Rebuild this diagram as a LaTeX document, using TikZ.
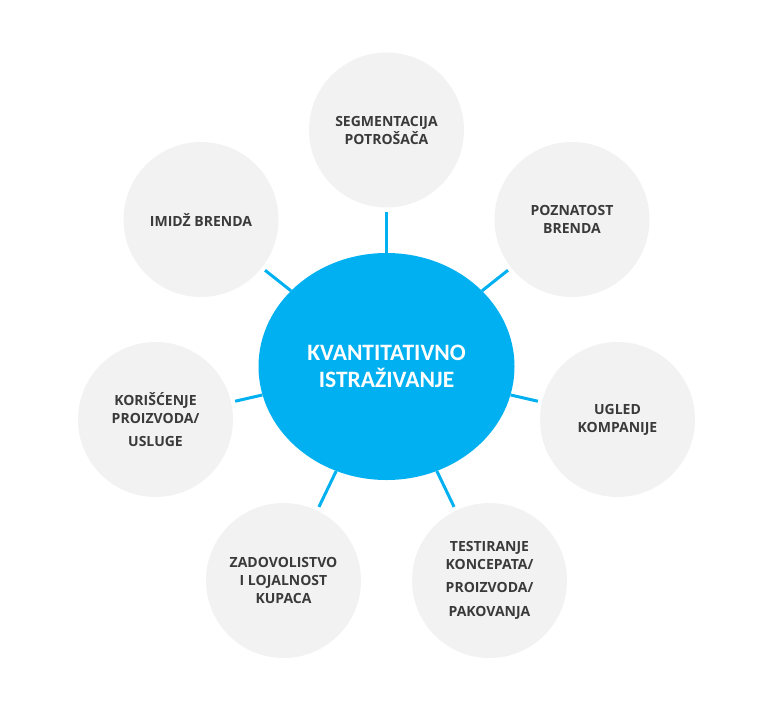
\documentclass[tikz,border=0pt]{standalone}
\usepackage{fontspec}
\setmainfont{Open Sans}
\newfontfamily\centerfont{Carlito}
\usetikzlibrary{shapes.geometric}
\definecolor{bubble}{HTML}{F2F2F2}
\definecolor{hubblue}{HTML}{00B0F0}
\definecolor{labelgray}{HTML}{3A3A3A}
\tikzset{
  bubble/.style={circle, fill=bubble, minimum size=155pt, inner sep=0pt,
    text=labelgray, align=center, font=\bfseries\fontsize{14}{18}\selectfont},
  hub/.style={ellipse, fill=hubblue, minimum width=256pt, minimum height=227pt,
    inner sep=0pt, text=white, align=center, font=\centerfont\bfseries\fontsize{23.5}{26.5}\selectfont},
  conn/.style={draw=hubblue, line width=3pt, shorten <=4pt}
}
\begin{document}
\begin{tikzpicture}[x=1pt,y=-1pt]
\useasboundingbox (0,0) rectangle (781,723);
\node[hub] (ell) at (386.5,366.5) {KVANTITATIVNO\\ISTRAŽIVANJE};
\node[bubble] (seg) at (386.5,130) {SEGMENTACIJA\\POTROŠAČA};
\node[bubble] (poz) at (572,219.5) {POZNATOST\\BRENDA};
\node[bubble] (ugl) at (617.5,419.5) {UGLED\\KOMPANIJE};
\node[bubble] (tes) at (489.5,580.5) {TESTIRANJE\\KONCEPATA/\\[5pt]PROIZVODA/\\[6pt]PAKOVANJA};
\node[bubble] (zad) at (283.5,580.5) {ZADOVOLISTVO\\I LOJALNOST\\KUPACA};
\node[bubble] (kor) at (155.5,419.5) {KORIŠĆENJE\\PROIZVODA/\\[5pt]USLUGE};
\node[bubble] (imi) at (201,219.5) {IMIDŽ BRENDA};
\foreach \n in {seg,poz,ugl,tes,zad,kor,imi}
  \draw[conn] (\n) -- (ell);
\end{tikzpicture}
\end{document}
